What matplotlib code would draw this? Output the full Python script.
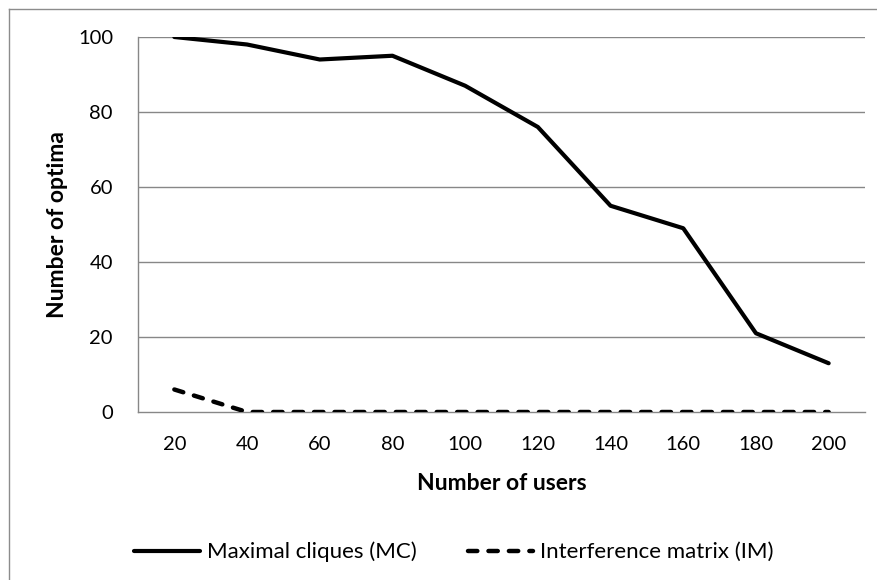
import matplotlib
matplotlib.use("Agg")
import matplotlib.pyplot as plt
from matplotlib.lines import Line2D

plt.rcParams['font.family'] = ['Lato', 'DejaVu Sans']

# data
users = [20, 40, 60, 80, 100, 120, 140, 160, 180, 200]
mc_optima = [100, 98, 94, 95, 87, 76, 55, 49, 21, 13]
im_optima = [6, 0, 0, 0, 0, 0, 0, 0, 0, 0]

W, H = 878, 580
fig = plt.figure(figsize=(W / 100, H / 100), dpi=100)

# chart area border: only top and left edges are inside the picture
frame_col = '#8c8c8c'
fig.add_artist(Line2D([8.5 / W, 8.5 / W], [0, 1 - 8.5 / H], transform=fig.transFigure,
                      color=frame_col, linewidth=1))
fig.add_artist(Line2D([8.5 / W, 1], [1 - 8.5 / H, 1 - 8.5 / H], transform=fig.transFigure,
                      color=frame_col, linewidth=1))

ax = fig.add_axes([138 / W, (H - 412) / H, 727 / W, 375 / H])

grid_col = '#878787'
for v in [20, 40, 60, 80, 100]:
    ax.axhline(v, color=grid_col, linewidth=1, zorder=1)

ax.plot(users, mc_optima, color='black', linewidth=3, solid_capstyle='round',
        solid_joinstyle='round', label='Maximal cliques (MC)', zorder=3)
ax.plot(users, im_optima, color='black', linewidth=3.2, dashes=(2.1, 2.5),
        dash_capstyle='round', label='Interference matrix (IM)', zorder=3)

ax.set_xlim(10, 210)
ax.set_ylim(0, 100)
ax.set_xticks(users)
ax.set_yticks([0, 20, 40, 60, 80, 100])
ax.tick_params(length=0, labelsize=14.5)
ax.tick_params(axis='x', pad=17.5)
ax.tick_params(axis='y', pad=18)

for s in ['top', 'right']:
    ax.spines[s].set_visible(False)
ax.spines['left'].set_color(grid_col)
ax.spines['bottom'].set_color(grid_col)
ax.spines['left'].set_linewidth(1)
ax.spines['bottom'].set_linewidth(1)

ax.set_xlabel('Number of users', fontsize=16.5, fontweight='bold', labelpad=14)
ax.set_ylabel('Number of optima', fontsize=16.5, fontweight='bold', labelpad=7)

fig.legend(loc='center', bbox_to_anchor=(454 / W, (H - 552) / H), ncol=2, frameon=False,
           fontsize=16, handlelength=2.95, handletextpad=0.32, columnspacing=2.3)

fig.savefig('out.png', dpi=100)
